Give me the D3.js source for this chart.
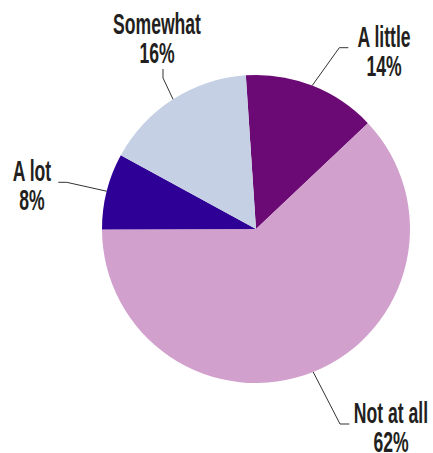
<!DOCTYPE html>
<html><head><meta charset="utf-8">
<script src="https://cdn.jsdelivr.net/npm/d3@7"></script>
<style>html,body{margin:0;padding:0;background:#fff;}</style>
</head><body>
<svg id="chart" width="433" height="453"></svg>
<script>
const categories = ["A little", "Not at all", "A lot", "Somewhat"];
const values = [14, 62, 8, 16];
const valueLabels = ["14%", "62%", "8%", "16%"];
const colors = ["#6b0a74", "#d1a0cc", "#2e0096", "#c5d0e4"];

const svg = d3.select("#chart");
const cx = 256, cy = 229, R = 154;
const start = -3.8 * Math.PI / 180;

const pie = d3.pie().sort(null).value(d => d)
  .startAngle(start).endAngle(start + 2 * Math.PI);
const arcs = pie(values);
const arc = d3.arc().innerRadius(0).outerRadius(R);

const g = svg.append("g").attr("transform", `translate(${cx},${cy})`);
g.selectAll("path").data(arcs).join("path")
  .attr("d", arc)
  .attr("fill", (d, i) => colors[i]);

// label layout (offsets from pie centre): elbow, elbow end, text centre, first baseline
const layout = [
  {elbow: [339.3 - cx, 47.7 - cy], end: [348.3 - cx, 47.7 - cy], tx: 384 - cx, ty: 47 - cy},
  {elbow: [340 - cx, 424 - cy], end: [349.3 - cx, 424 - cy], tx: 391 - cx, ty: 423 - cy},
  {elbow: [66.7 - cx, 182.3 - cy], end: [58.3 - cx, 182.3 - cy], tx: 32 - cx, ty: 181 - cy},
  {elbow: [163 - cx, 78 - cy], end: [163 - cx, 69 - cy], tx: 157 - cx, ty: 34 - cy}
];

arcs.forEach((d, i) => {
  const a = (d.startAngle + d.endAngle) / 2;
  const p0 = [R * Math.sin(a), -R * Math.cos(a)];
  const L = layout[i];
  g.append("polyline")
    .attr("points", [p0, L.elbow, L.end].map(p => p.join(",")).join(" "))
    .attr("fill", "none")
    .attr("stroke", "#333")
    .attr("stroke-width", 1);
  [categories[i], valueLabels[i]].forEach((t, k) => {
    g.append("text")
      .attr("transform", `translate(${L.tx},${L.ty + k * 29}) scale(0.607,1)`)
      .attr("text-anchor", "middle")
      .attr("font-family", "'Liberation Sans', Arial, sans-serif")
      .attr("font-weight", "bold")
      .attr("font-size", 29)
      .attr("fill", "#231f20")
      .text(t);
  });
});
</script>
</body></html>
